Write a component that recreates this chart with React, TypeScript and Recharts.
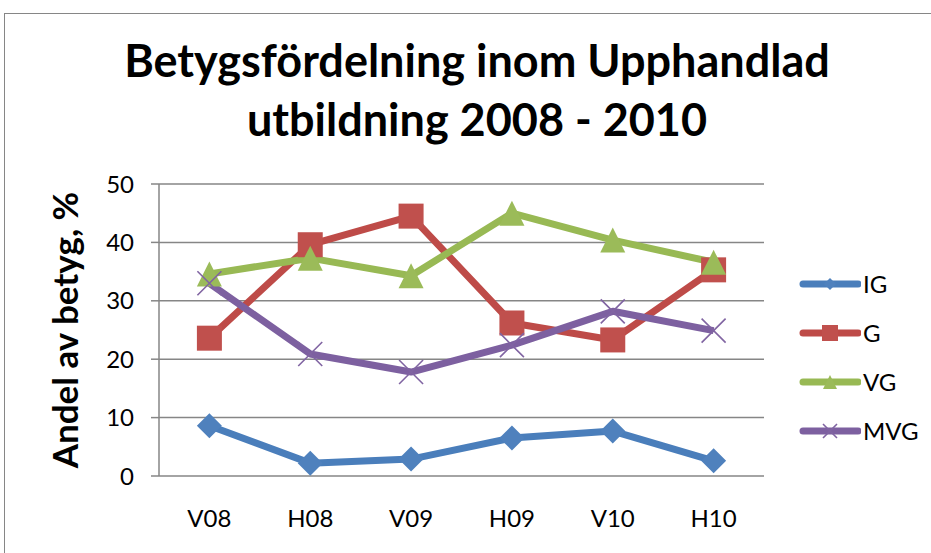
import React from 'react';
import { LineChart, Line, XAxis, YAxis, CartesianGrid, Legend } from 'recharts';

const categories = ['V08', 'H08', 'V09', 'H09', 'V10', 'H10'];
const igValues = [8.6, 2.2, 2.9, 6.5, 7.7, 2.6];
const gValues = [23.6, 39.6, 44.5, 26.2, 23.3, 35.3];
const vgValues = [34.6, 37.3, 34.3, 45.0, 40.4, 36.6];
const mvgValues = [33.0, 20.9, 17.8, 22.4, 28.2, 24.9];
const yTicks = [0, 10, 20, 30, 40, 50];
const boundaryTicks = [0, 1, 2, 3, 4, 5, 6];
const seriesNames = ['IG', 'G', 'VG', 'MVG'];

const data = categories.map((c, i) => ({
  cat: c,
  IG: igValues[i],
  G: gValues[i],
  VG: vgValues[i],
  MVG: mvgValues[i],
}));

const FONT = 'Lato, "Open Sans", sans-serif';
const COLORS: Record<string, string> = {
  IG: '#4A7EBB',
  G: '#BE4B48',
  VG: '#98B954',
  MVG: '#7D60A0',
};
const FILLS: Record<string, string> = {
  IG: '#4F81BD',
  G: '#C0504D',
  VG: '#9BBB59',
  MVG: '#8064A2',
};

function markerShape(name: string, cx: number, cy: number, s: number, key?: any) {
  const fill = FILLS[name];
  if (name === 'IG') {
    return (
      <path key={key} d={`M${cx},${cy - s} L${cx + s},${cy} L${cx},${cy + s} L${cx - s},${cy} Z`} fill={fill} />
    );
  }
  if (name === 'G') {
    return <rect key={key} x={cx - s} y={cy - s} width={2 * s} height={2 * s} fill={fill} />;
  }
  if (name === 'VG') {
    return (
      <path key={key} d={`M${cx},${cy - s} L${cx + s},${cy + s} L${cx - s},${cy + s} Z`} fill={fill} />
    );
  }
  return (
    <path
      key={key}
      d={`M${cx - s},${cy - s} L${cx + s},${cy + s} M${cx - s},${cy + s} L${cx + s},${cy - s}`}
      stroke={fill}
      strokeWidth={1.6}
      fill="none"
    />
  );
}

const makeDot = (name: string) => (props: any) => {
  const { cx, cy, index } = props;
  if (cx == null || cy == null) return <g key={`${name}-${index}`} />;
  const s = name === 'MVG' ? 12 : 12.5;
  return markerShape(name, cx, cy, s, `${name}-${index}`);
};

const renderLegend = () => (
  <div style={{ fontFamily: FONT, fontSize: 24, color: '#000' }}>
    {seriesNames.map((n) => (
      <div key={n} style={{ display: 'flex', alignItems: 'center', height: 49 }}>
        <svg width={62} height={30} style={{ display: 'block' }}>
          <line x1={4} y1={15} x2={59} y2={15} stroke={COLORS[n]} strokeWidth={7} strokeLinecap="round" />
          {markerShape(n, 31, 15, n === 'IG' ? 6 : n === 'G' ? 8 : 7)}
        </svg>
        <span style={{ marginLeft: 2, lineHeight: '30px' }}>{n}</span>
      </div>
    ))}
  </div>
);

export default function App() {
  return (
    <div style={{ position: 'absolute', left: 0, top: 0, width: 931, height: 553, background: '#fff', overflow: 'hidden' }}>
      <div
        style={{
          position: 'absolute',
          left: 4,
          top: 13,
          width: 940,
          height: 560,
          border: '1.5px solid #868686',
          boxSizing: 'border-box',
        }}
      />
      <div
        style={{
          position: 'absolute',
          left: 77,
          top: 31,
          width: 800,
          textAlign: 'center',
          fontFamily: FONT,
          fontWeight: 700,
          fontSize: 45,
          lineHeight: '59px',
          color: '#000',
        }}
      >
        Betygsfördelning inom Upphandlad
        <br />
        utbildning 2008 - 2010
      </div>
      <div style={{ position: 'absolute', left: 0, top: 0 }}>
        <LineChart
          width={931}
          height={553}
          data={data}
          margin={{ top: 184, right: 167, bottom: 47, left: 0 }}
        >
          <CartesianGrid horizontal vertical={false} stroke="#868686" strokeWidth={1.5} />
          <XAxis
            xAxisId="bounds"
            type="number"
            domain={[0, 6]}
            ticks={boundaryTicks}
            height={0}
            tickSize={8}
            axisLine={{ stroke: '#868686', strokeWidth: 1.5 }}
            tickLine={{ stroke: '#868686', strokeWidth: 1.5 }}
            tick={() => <g />}
            allowDataOverflow
          />
          <XAxis
            dataKey="cat"
            height={30}
            tickSize={8}
            tickMargin={26}
            padding={{ left: 50.4, right: 50.4 }}
            axisLine={false}
            tickLine={false}
            tick={{ fill: '#000', fontFamily: FONT, fontSize: 24 }}
            interval={0}
          />
          <YAxis
            width={159}
            domain={[0, 50]}
            ticks={yTicks}
            tickSize={8}
            tickMargin={17}
            axisLine={{ stroke: '#868686', strokeWidth: 1.5 }}
            tickLine={{ stroke: '#868686', strokeWidth: 1.5 }}
            tick={{ fill: '#000', fontFamily: FONT, fontSize: 24 }}
            label={{
              value: 'Andel av betyg, %',
              angle: -90,
              position: 'insideLeft',
              offset: 66,
              style: { textAnchor: 'middle', fontFamily: FONT, fontWeight: 700, fontSize: 35, fill: '#000' },
            }}
          />
          <Legend
            layout="vertical"
            align="center"
            verticalAlign="middle"
            content={renderLegend}
            wrapperStyle={{ position: 'absolute', left: 799, top: 259, width: 130 }}
          />
          {seriesNames.map((n) => (
            <Line
              key={n}
              type="linear"
              dataKey={n}
              stroke={COLORS[n]}
              strokeWidth={7}
              strokeLinejoin="round"
              dot={makeDot(n)}
              activeDot={false}
              isAnimationActive={false}
            />
          ))}
        </LineChart>
      </div>
    </div>
  );
}
